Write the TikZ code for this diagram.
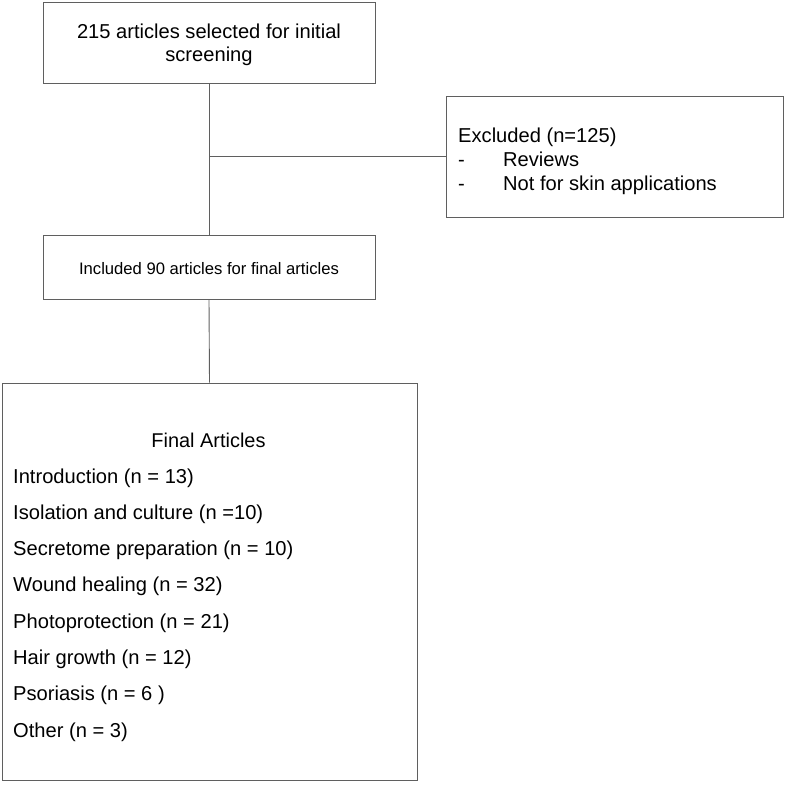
\documentclass[tikz,border=0pt]{standalone}
\usepackage{fontspec}
\setmainfont{Liberation Sans}
\usepackage{tikz}
\usetikzlibrary{positioning}
\definecolor{framegray}{RGB}{95,95,95}

\begin{document}
\begin{tikzpicture}[x=1bp, y=-1bp,
    box/.style={draw=framegray, line width=0.9bp, inner sep=0pt},
    link/.style={draw=framegray, line width=0.9bp},
    entry/.style={anchor=base west, inner sep=0pt, font=\fontsize{20.2}{24}\selectfont}]
                        \useasboundingbox (0, 0) rectangle (787, 787);
                        \node[box, minimum width=332bp, minimum height=81bp,
                            font=\fontsize{20.2}{23.5}\selectfont] (sel) at (209, 42.5)
                            {\raisebox{-3bp}[\height][\depth]{\begin{tabular}{@{}c@{}}
                            215 articles selected for initial\\screening\end{tabular}}};
                        \node[box, minimum width=337bp, minimum height=121bp] (excl) at (614.5, 156.5) {};
                        \node[entry] (exclhead) at (458, 142) {Excluded (n=125)};
                        \node[entry] (exclrev) at (458, 166) {\makebox[45bp][l]{-}Reviews};
                        \node[entry] (exclskin) at (458, 190.5) {\makebox[45bp][l]{-}Not for skin applications};
                        \node[box, minimum width=332bp, minimum height=64bp,
                            font=\fontsize{16.7}{20}\selectfont] (incl) at (209, 267)
                            {\raisebox{-1.5bp}[\height][\depth]{Included 90 articles for final articles}};
                        \node[box, minimum width=415bp, minimum height=397bp] (fin) at (209.5, 581.5) {};
                        \node[anchor=base, inner sep=0pt, font=\fontsize{20}{24}\selectfont] (fintitle)
                            at (208.5, 447) {Final Articles};
                        \foreach \txt [count=\i] in {Introduction (n = 13),
                            Isolation and culture (n =10),
                            Secretome preparation (n = 10),
                            Wound healing (n = 32),
                            Photoprotection (n = 21),
                            Hair growth (n = 12),
                            Psoriasis (n = 6 ),
                            Other (n = 3)}
                            \node[entry] (item\i) at (13, 483 + 36.3*\i - 36.3) {\txt};
                        \coordinate (split) at (209, 156.5);
                        \draw[link] (sel.south) -- (incl.north);
                        \draw[link] (split) -- (excl.west);
                        \draw[link] (incl.south) -- (fin.north);
                    \end{tikzpicture}
\end{document}
